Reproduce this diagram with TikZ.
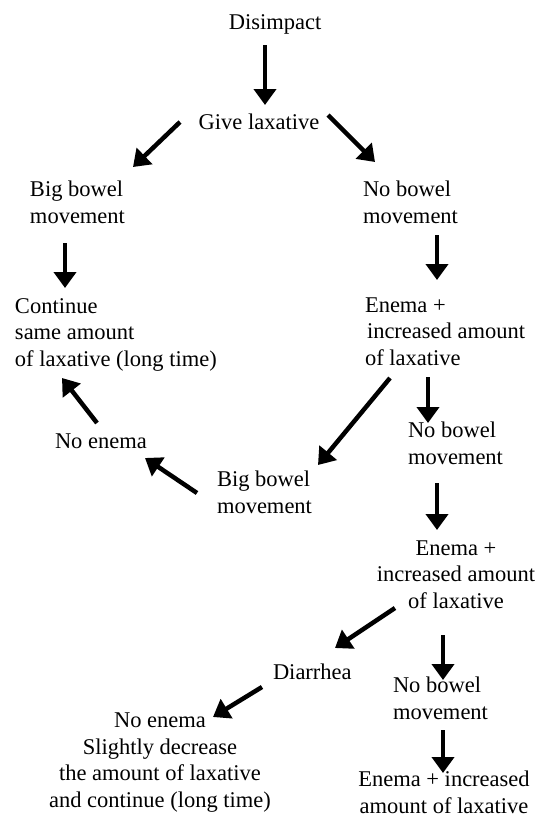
\documentclass[tikz,border=0pt]{standalone}
\usepackage{fontspec}
\setmainfont{Liberation Serif}
\usetikzlibrary{arrows.meta}
\tikzset{
  lbl/.style={inner sep=0pt, outer sep=0pt, font=\fontsize{22.5}{26.5}\selectfont},
  lblL/.style={lbl, align=left, anchor=base west},
  lblC/.style={lbl, align=center, anchor=base},
  arr/.style={line width=4.5pt, -{Triangle[length=16pt,width=22pt]}}
}
\begin{document}
\begin{tikzpicture}[x=1pt,y=-1pt]
\useasboundingbox (0,0) rectangle (540,820);
% nodes (anchor = baseline of the last line)
\node[lblC] (dis) at (275,29) {Disimpact};
\node[lblC] (give) at (259,129) {Give laxative};
\node[lblL] (bigL) at (30,223) {Big bowel\\movement};
\node[lblL] (noR) at (363,223) {No bowel\\movement};
\node[lblL] (cont) at (15,366) {Continue\\same amount\\of laxative (long time)};
\node[lblL] (en1) at (365,365) {Enema +\\\hspace{2pt}increased amount\\of laxative};
\node[lblL] (noen1) at (55,448) {No enema};
\node[lblL] (bigM) at (217,513) {Big bowel\\movement};
\node[lblL] (noM) at (408,464) {No bowel\\movement};
\node[lblC] (en2) at (456,608) {Enema +\\increased amount\\of laxative};
\node[lblL] (dia) at (273,679) {Diarrhea};
\node[lblL] (noB) at (393,719) {No bowel\\movement};
\node[lblC] (noen2) at (160,807) {No enema\\Slightly decrease\\the amount of laxative\\and continue (long time)};
\node[lblC] (en3) at (444,813) {Enema + increased\\amount of laxative};
% arrow end points
\coordinate (dis-o) at (265,45);   \coordinate (give-i) at (265,105);
\coordinate (give-oL) at (180,122); \coordinate (bigL-i) at (133,167);
\coordinate (give-oR) at (328,115); \coordinate (noR-i) at (375,162);
\coordinate (bigL-o) at (65,243);  \coordinate (cont-i) at (65,288);
\coordinate (noR-o) at (437,235);  \coordinate (en1-i) at (437,280);
\coordinate (en1-oL) at (390,378); \coordinate (bigM-i) at (318,465);
\coordinate (en1-oD) at (428,377); \coordinate (noM-i) at (428,423);
\coordinate (bigM-o) at (197,493); \coordinate (noen1-i) at (145,458);
\coordinate (noen1-o) at (97,423); \coordinate (cont-i2) at (62,378);
\coordinate (noM-o) at (437,483);  \coordinate (en2-i) at (437,530);
\coordinate (en2-oL) at (395,608); \coordinate (dia-i) at (335,648);
\coordinate (en2-oD) at (443,635); \coordinate (noB-i) at (443,680);
\coordinate (dia-o) at (262,687);  \coordinate (noen2-i) at (213,717);
\coordinate (noB-o) at (443,730);  \coordinate (en3-i) at (443,773);
% arrows
\draw[arr] (dis-o) -- (give-i);
\draw[arr] (give-oL) -- (bigL-i);
\draw[arr] (give-oR) -- (noR-i);
\draw[arr] (bigL-o) -- (cont-i);
\draw[arr] (noR-o) -- (en1-i);
\draw[arr] (en1-oL) -- (bigM-i);
\draw[arr] (en1-oD) -- (noM-i);
\draw[arr] (bigM-o) -- (noen1-i);
\draw[arr] (noen1-o) -- (cont-i2);
\draw[arr] (noM-o) -- (en2-i);
\draw[arr] (en2-oL) -- (dia-i);
\draw[arr] (en2-oD) -- (noB-i);
\draw[arr] (dia-o) -- (noen2-i);
\draw[arr] (noB-o) -- (en3-i);
\end{tikzpicture}
\end{document}
